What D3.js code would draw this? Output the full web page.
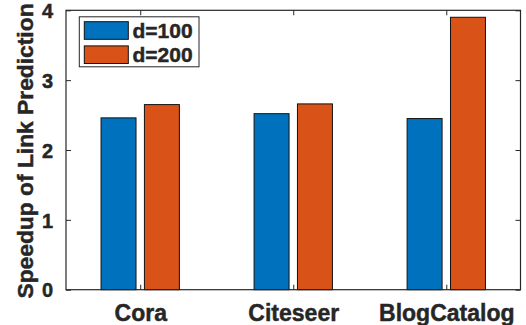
<!DOCTYPE html>
<html>
<head>
<meta charset="utf-8">
<script src="https://cdn.jsdelivr.net/npm/d3@7/dist/d3.min.js"></script>
<style>
html,body{margin:0;padding:0;background:#fff;}
text{font-family:"Liberation Sans",Arial,Helvetica,sans-serif;font-weight:bold;fill:#262626;stroke:#262626;stroke-width:0.45px;}
</style>
</head>
<body>
<svg id="chart" width="526" height="325"></svg>
<script>
const categories = ["Cora", "Citeseer", "BlogCatalog"];
const seriesNames = ["d=100", "d=200"];
const d100 = [2.46, 2.52, 2.45];
const d200 = [2.65, 2.66, 3.90];
const yTicks = [0, 1, 2, 3, 4];
const colors = ["#0072BD", "#D95319"];

const svg = d3.select("#chart");
const L = 66, R = 520.5, T = 10.3, B = 289.7;
const x = d3.scaleLinear().domain([0.515, 3.485]).range([L, R]);
const y = d3.scaleLinear().domain([0, 4]).range([B, T]);
const offset = 0.1417, bw = 0.2285;
const series = [d100, d200];
const axisColor = "#262626";

// bars
series.forEach((vals, si) => {
  svg.append("g").selectAll("rect").data(vals).join("rect")
    .attr("x", (d, i) => x(i + 1 + (si === 0 ? -offset : offset) - bw / 2))
    .attr("width", x(bw) - x(0))
    .attr("y", d => y(d))
    .attr("height", d => y(0) - y(d))
    .attr("fill", colors[si])
    .attr("stroke", "#111")
    .attr("stroke-width", 1);
});

// axes
const cats = categories.map((c, i) => i + 1);
const gL = svg.append("g").attr("transform", `translate(${L},0)`)
  .call(d3.axisLeft(y).tickValues(yTicks).tickSize(-5).tickPadding(13).tickFormat(d3.format("d")));
const gR = svg.append("g").attr("transform", `translate(${R},0)`)
  .call(d3.axisRight(y).tickValues(yTicks).tickSize(-5).tickFormat(""));
const gB = svg.append("g").attr("transform", `translate(0,${B})`)
  .call(d3.axisBottom(x).tickValues(cats).tickSize(-5).tickPadding(14).tickFormat((d, i) => categories[i]));
const gT = svg.append("g").attr("transform", `translate(0,${T})`)
  .call(d3.axisTop(x).tickValues(cats).tickSize(-5).tickFormat(""));
[gL, gR, gB, gT].forEach(g => {
  g.select(".domain").attr("stroke", axisColor).attr("stroke-width", 1.2);
  g.selectAll(".tick line").attr("stroke", axisColor).attr("stroke-width", 1);
  g.selectAll("text").attr("fill", axisColor).style("font-family", '"Liberation Sans",Arial,sans-serif').style("font-weight", "bold");
});
gL.selectAll("text").style("font-size", "20px").attr("dy", "0.36em");
gB.selectAll("text").style("font-size", "23px").attr("dy", "0.75em");
[gL, gR, gB, gT].forEach(g => g.select(".domain").attr("d", null));
svg.append("rect").attr("x", L).attr("y", T).attr("width", R - L).attr("height", B - T)
  .attr("fill", "none").attr("stroke", axisColor).attr("stroke-width", 1.2);

// y label
svg.append("text")
  .attr("transform", `translate(32.5,151) rotate(-90)`)
  .attr("text-anchor", "middle")
  .style("font-size", "22.8px")
  .text("Speedup of Link Prediction");

// legend
const lg = svg.append("g");
lg.append("rect").attr("x", 79.3).attr("y", 16.8).attr("width", 119.7).attr("height", 50)
  .attr("fill", "#fff").attr("stroke", "#262626").attr("stroke-width", 1);
seriesNames.forEach((n, i) => {
  const cy = 30.5 + i * 24.2;
  lg.append("rect").attr("x", 84.3).attr("y", cy - 8.8).attr("width", 44).attr("height", 17.6)
    .attr("fill", colors[i]).attr("stroke", "#111").attr("stroke-width", 1);
  lg.append("text").attr("x", 132.5).attr("y", cy).attr("dy", "0.36em")
    .style("font-size", "21px").text(n);
});
</script>
</body>
</html>
